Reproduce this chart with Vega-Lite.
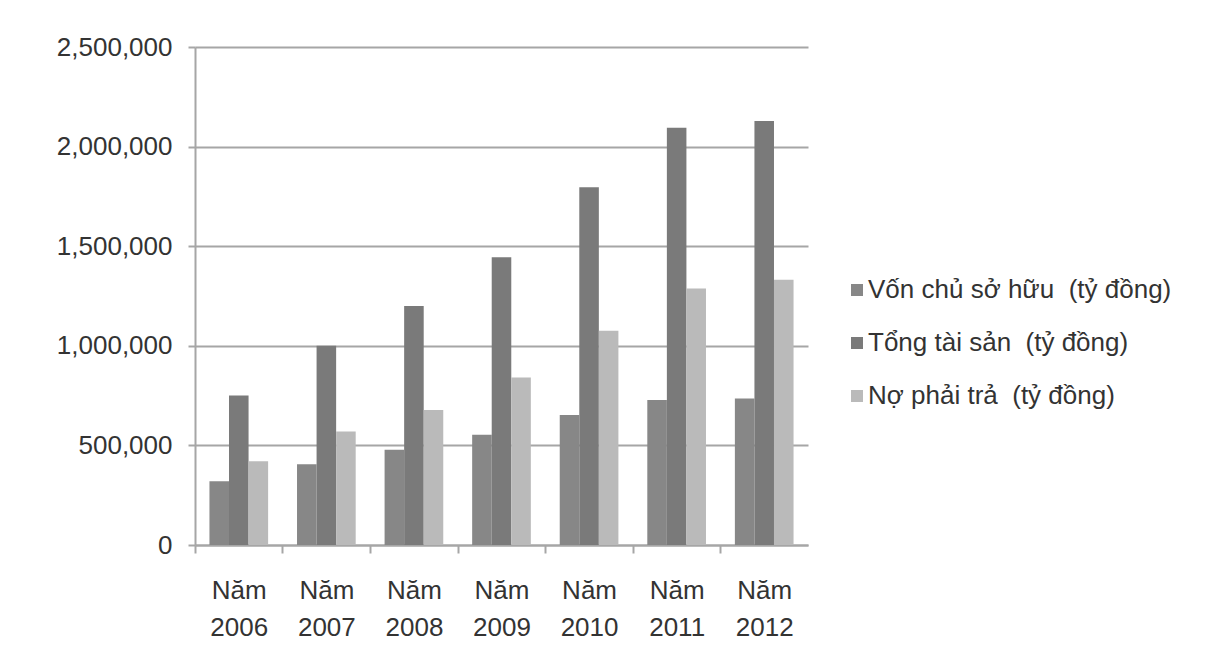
{
  "$schema": "https://vega.github.io/schema/vega-lite/v6.json",
  "autosize": "none",
  "width": 613,
  "height": 498,
  "padding": {"left": 195, "top": 47, "right": 418, "bottom": 120},
  "background": "white",
  "data": {
    "values": [
      {"nam": "2006", "chi_tieu": "Vốn chủ sở hữu\u00a0 (tỷ đồng)", "gia_tri": 320000},
      {"nam": "2006", "chi_tieu": "Tổng tài sản\u00a0 (tỷ đồng)", "gia_tri": 750000},
      {"nam": "2006", "chi_tieu": "Nợ phải trả\u00a0 (tỷ đồng)", "gia_tri": 420000},
      {"nam": "2007", "chi_tieu": "Vốn chủ sở hữu\u00a0 (tỷ đồng)", "gia_tri": 405000},
      {"nam": "2007", "chi_tieu": "Tổng tài sản\u00a0 (tỷ đồng)", "gia_tri": 1000000},
      {"nam": "2007", "chi_tieu": "Nợ phải trả\u00a0 (tỷ đồng)", "gia_tri": 570000},
      {"nam": "2008", "chi_tieu": "Vốn chủ sở hữu\u00a0 (tỷ đồng)", "gia_tri": 478000},
      {"nam": "2008", "chi_tieu": "Tổng tài sản\u00a0 (tỷ đồng)", "gia_tri": 1200000},
      {"nam": "2008", "chi_tieu": "Nợ phải trả\u00a0 (tỷ đồng)", "gia_tri": 678000},
      {"nam": "2009", "chi_tieu": "Vốn chủ sở hữu\u00a0 (tỷ đồng)", "gia_tri": 553000},
      {"nam": "2009", "chi_tieu": "Tổng tài sản\u00a0 (tỷ đồng)", "gia_tri": 1445000},
      {"nam": "2009", "chi_tieu": "Nợ phải trả\u00a0 (tỷ đồng)", "gia_tri": 841000},
      {"nam": "2010", "chi_tieu": "Vốn chủ sở hữu\u00a0 (tỷ đồng)", "gia_tri": 653000},
      {"nam": "2010", "chi_tieu": "Tổng tài sản\u00a0 (tỷ đồng)", "gia_tri": 1796000},
      {"nam": "2010", "chi_tieu": "Nợ phải trả\u00a0 (tỷ đồng)", "gia_tri": 1076000},
      {"nam": "2011", "chi_tieu": "Vốn chủ sở hữu\u00a0 (tỷ đồng)", "gia_tri": 728000},
      {"nam": "2011", "chi_tieu": "Tổng tài sản\u00a0 (tỷ đồng)", "gia_tri": 2095000},
      {"nam": "2011", "chi_tieu": "Nợ phải trả\u00a0 (tỷ đồng)", "gia_tri": 1288000},
      {"nam": "2012", "chi_tieu": "Vốn chủ sở hữu\u00a0 (tỷ đồng)", "gia_tri": 735000},
      {"nam": "2012", "chi_tieu": "Tổng tài sản\u00a0 (tỷ đồng)", "gia_tri": 2128000},
      {"nam": "2012", "chi_tieu": "Nợ phải trả\u00a0 (tỷ đồng)", "gia_tri": 1332000}
    ]
  },
  "mark": {"type": "bar"},
  "encoding": {
    "x": {
      "field": "nam",
      "type": "nominal",
      "sort": null,
      "scale": {"paddingInner": 0.33, "paddingOuter": 0.165},
      "axis": {
        "title": null,
        "labelAngle": 0,
        "labelExpr": "['Năm', datum.label]",
        "labelFont": "Liberation Sans",
        "labelFontSize": 26,
        "labelColor": "#333333",
        "labelLineHeight": 37,
        "labelPadding": 24,
        "tickOffset": -44,
        "labelOffset": 44,
        "tickSize": 8,
        "tickColor": "#a6a6a6",
        "tickWidth": 2,
        "domainColor": "#a6a6a6",
        "domainWidth": 2,
        "grid": false
      }
    },
    "xOffset": {
      "field": "chi_tieu",
      "type": "nominal",
      "sort": ["Vốn chủ sở hữu\u00a0 (tỷ đồng)", "Tổng tài sản\u00a0 (tỷ đồng)", "Nợ phải trả\u00a0 (tỷ đồng)"],
      "scale": {"paddingInner": 0, "paddingOuter": 0}
    },
    "y": {
      "field": "gia_tri",
      "type": "quantitative",
      "scale": {"domain": [0, 2500000], "nice": false},
      "axis": {
        "title": null,
        "values": [0, 500000, 1000000, 1500000, 2000000, 2500000],
        "format": ",d",
        "labelFont": "Liberation Sans",
        "labelFontSize": 26,
        "labelColor": "#333333",
        "labelPadding": 16,
        "tickSize": 7,
        "tickColor": "#a6a6a6",
        "tickWidth": 2,
        "domainColor": "#a6a6a6",
        "domainWidth": 2,
        "gridColor": "#a6a6a6",
        "gridWidth": 2
      }
    },
    "color": {
      "field": "chi_tieu",
      "type": "nominal",
      "sort": ["Vốn chủ sở hữu\u00a0 (tỷ đồng)", "Tổng tài sản\u00a0 (tỷ đồng)", "Nợ phải trả\u00a0 (tỷ đồng)"],
      "scale": {
        "domain": ["Vốn chủ sở hữu\u00a0 (tỷ đồng)", "Tổng tài sản\u00a0 (tỷ đồng)", "Nợ phải trả\u00a0 (tỷ đồng)"],
        "range": ["#878787", "#7a7a7a", "#bababa"]
      },
      "legend": {
        "title": null,
        "orient": "none",
        "legendX": 649,
        "legendY": 230,
        "symbolType": "square",
        "symbolSize": 144,
        "symbolStrokeWidth": 0,
        "symbolOffset": 0,
        "labelFont": "Liberation Sans",
        "labelFontSize": 26,
        "labelColor": "#333333",
        "labelOffset": -2,
        "labelLimit": 420,
        "rowPadding": 27
      }
    }
  },
  "config": {
    "view": {"stroke": null}
  }
}
